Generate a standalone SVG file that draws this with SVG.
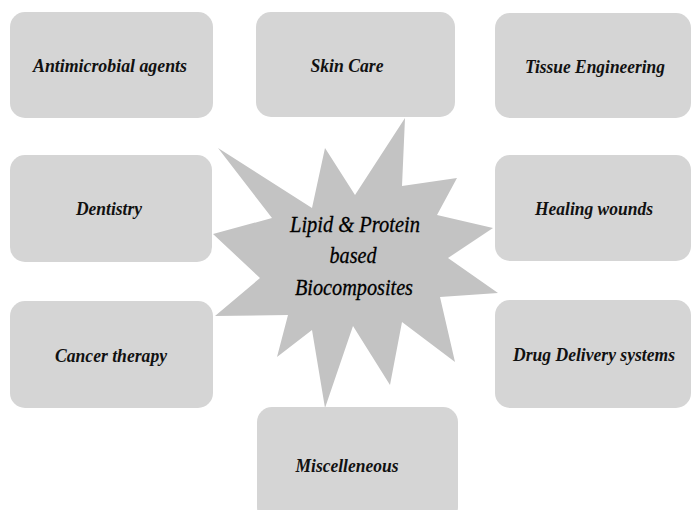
<svg xmlns="http://www.w3.org/2000/svg" width="691" height="510" viewBox="0 0 691 510">
<style>
.box{fill:#d5d5d5;}
.star{fill:#c3c3c3;}
.lbl{font-family:"Liberation Serif","Times New Roman",serif;font-style:italic;font-weight:bold;font-size:19px;fill:#111;text-anchor:middle;}
.ctr{font-family:"Liberation Serif","Times New Roman",serif;font-style:italic;font-size:23px;fill:#000;text-anchor:middle;stroke:#000;stroke-width:0.3;}
</style>
<rect width="691" height="510" fill="#ffffff"/>
<g id="connectors"></g>
<g id="center">
<polygon class="star" points="325,148 355,195 405,118 402,186 457,178 437,215 493,228 448,258 498,293 440,297 455,362 402,322 390,385 353,326 325,408 312,330 277,357 288,315 215,316 260,278 213,234 272,218 218,148 312,208"/>
<text class="ctr" x="355" y="232" textLength="130" lengthAdjust="spacingAndGlyphs">Lipid &amp; Protein</text>
<text class="ctr" x="353" y="263" textLength="47" lengthAdjust="spacingAndGlyphs">based</text>
<text class="ctr" x="354" y="295" textLength="118" lengthAdjust="spacingAndGlyphs">Biocomposites</text>
</g>
<g id="antimicrobial">
<rect class="box" x="10" y="12" width="203" height="106" rx="15"/>
<text class="lbl" x="110" y="72" textLength="154" lengthAdjust="spacingAndGlyphs">Antimicrobial agents</text>
</g>
<g id="skincare">
<rect class="box" x="256" y="12" width="199" height="105" rx="15"/>
<text class="lbl" x="347" y="72" textLength="73" lengthAdjust="spacingAndGlyphs">Skin Care</text>
</g>
<g id="tissue">
<rect class="box" x="495" y="13" width="196" height="105" rx="15"/>
<text class="lbl" x="595" y="73" textLength="140" lengthAdjust="spacingAndGlyphs">Tissue Engineering</text>
</g>
<g id="dentistry">
<rect class="box" x="10" y="155" width="202" height="107" rx="15"/>
<text class="lbl" x="109" y="215" textLength="66" lengthAdjust="spacingAndGlyphs">Dentistry</text>
</g>
<g id="healing">
<rect class="box" x="495" y="155" width="196" height="106" rx="15"/>
<text class="lbl" x="594" y="215" textLength="118" lengthAdjust="spacingAndGlyphs">Healing wounds</text>
</g>
<g id="cancer">
<rect class="box" x="10" y="301" width="203" height="107" rx="15"/>
<text class="lbl" x="111" y="362" textLength="112" lengthAdjust="spacingAndGlyphs">Cancer therapy</text>
</g>
<g id="drug">
<rect class="box" x="495" y="300" width="196" height="108" rx="15"/>
<text class="lbl" x="594" y="361" textLength="162" lengthAdjust="spacingAndGlyphs">Drug Delivery systems</text>
</g>
<g id="misc">
<rect class="box" x="257" y="407" width="201" height="115" rx="15"/>
<text class="lbl" x="347" y="472" textLength="103" lengthAdjust="spacingAndGlyphs">Miscelleneous</text>
</g>
</svg>
